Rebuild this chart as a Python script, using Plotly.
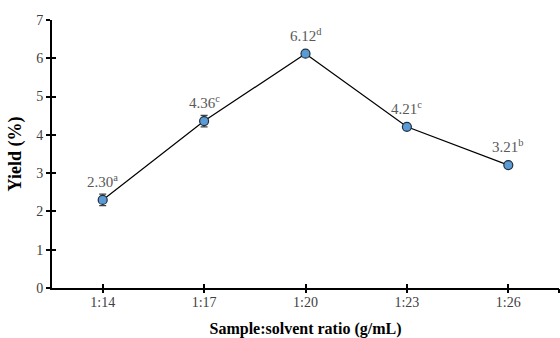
import plotly.graph_objects as go

ratios = ["1:14", "1:17", "1:20", "1:23", "1:26"]
yield_pct = [2.30, 4.36, 6.12, 4.21, 3.21]
yield_err = [0.15, 0.15, 0.05, 0.05, 0.05]
letters = ["a", "c", "d", "c", "b"]

serif = "Liberation Serif, Times New Roman, serif"
axis_col = "#000000"
tick_col = "#404040"
label_col = "#595959"

fig = go.Figure()
fig.add_trace(go.Scatter(
    x=ratios, y=yield_pct,
    mode="lines+markers",
    line=dict(color="black", width=1.2),
    marker=dict(size=9, color="#5B9BD5", line=dict(color="#1f2f3f", width=1.2)),
    error_y=dict(type="data", array=yield_err, visible=True,
                 color="#404040", thickness=1.2, width=3.5),
    showlegend=False,
))

for r, v, s in zip(ratios, yield_pct, letters):
    fig.add_annotation(
        x=r, y=v, text=f"{v:.2f}<sup>{s}</sup>", showarrow=False,
        yshift=19,
        font=dict(family=serif, size=15, color=label_col),
    )

# positions of the category centres plus the right end of the axis,
# used for the cross-style tick marks
n_cat = len(ratios)
cross_ticks = list(range(n_cat)) + [n_cat - 0.5]
x_range = [-0.5, n_cat - 0.5]

fig.update_layout(
    width=560, height=338,
    margin=dict(l=52, r=1, t=20, b=50),
    paper_bgcolor="white", plot_bgcolor="white",
    font=dict(family=serif, color=tick_col),
    xaxis=dict(
        type="category", range=x_range,
        showline=True, linecolor=axis_col, linewidth=2,
        ticks="", showgrid=False, zeroline=False,
        tickfont=dict(family=serif, size=14, color=tick_col),
        title=dict(text="<b>Sample:solvent ratio (g/mL)</b>",
                   font=dict(family=serif, size=16, color="black"), standoff=17),
    ),
    xaxis2=dict(
        overlaying="x", anchor="y", side="bottom", range=x_range,
        tickvals=cross_ticks, ticks="outside", ticklen=4, tickwidth=1.5,
        tickcolor=axis_col, showticklabels=False, showline=False,
        showgrid=False, zeroline=False,
    ),
    xaxis3=dict(
        overlaying="x", anchor="y", side="bottom", range=x_range,
        tickvals=cross_ticks, ticks="inside", ticklen=4, tickwidth=1.5,
        tickcolor=axis_col, showticklabels=False, showline=False,
        showgrid=False, zeroline=False,
    ),
    yaxis=dict(
        range=[0, 7], dtick=1,
        showline=True, linecolor=axis_col, linewidth=2,
        ticks="outside", ticklen=4, tickwidth=1.5, tickcolor=axis_col,
        showgrid=False, zeroline=False,
        tickfont=dict(family=serif, size=14, color=tick_col),
        title=dict(text="<b>Yield (%)</b>",
                   font=dict(family=serif, size=18, color="black"), standoff=10),
    ),
    yaxis2=dict(
        overlaying="y", anchor="x", side="left", range=[0, 7], dtick=1,
        ticks="inside", ticklen=4, tickwidth=1.5, tickcolor=axis_col,
        showticklabels=False, showline=False, showgrid=False, zeroline=False,
    ),
)

# invisible carriers so the overlay axes are drawn
fig.add_trace(go.Scatter(x=[x_range[0]], y=[0], xaxis="x2", yaxis="y",
                         mode="markers", marker=dict(opacity=0),
                         hoverinfo="skip", showlegend=False))
fig.add_trace(go.Scatter(x=[x_range[0]], y=[0], xaxis="x3", yaxis="y2",
                         mode="markers", marker=dict(opacity=0),
                         hoverinfo="skip", showlegend=False))

fig.write_html("out.html")
